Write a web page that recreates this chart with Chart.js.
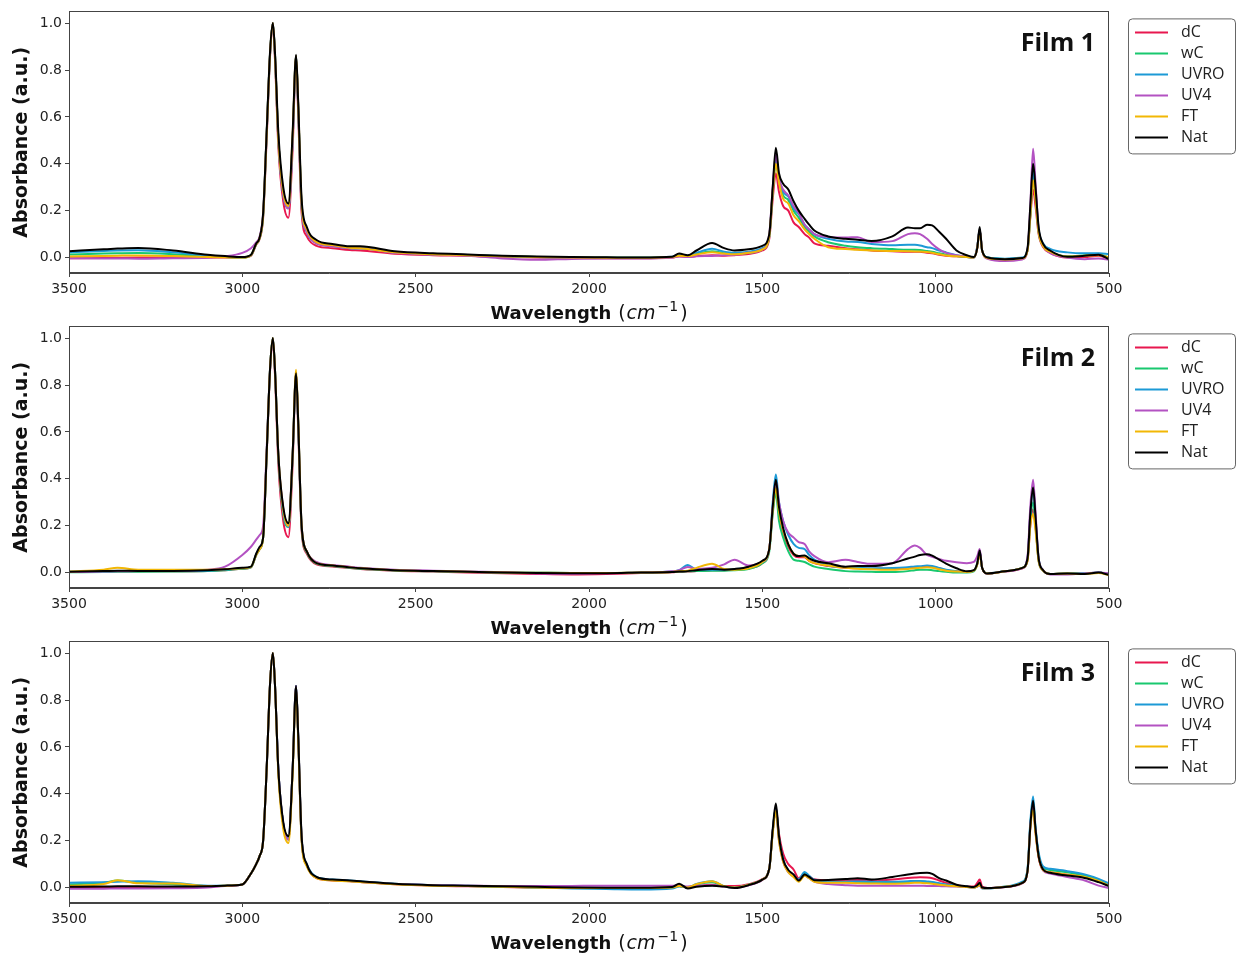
<!doctype html>
<html>
<head>
<meta charset="utf-8">
<script src="https://cdn.jsdelivr.net/npm/chart.js@4.4.1/dist/chart.umd.min.js"></script>
<style>
body { margin: 0; background: #fff; }
.panel { position: absolute; left: 0; }
</style>
</head>
<body>
<div class="panel" style="top:0px"><canvas id="film1" width="1241" height="330"></canvas></div>
<div class="panel" style="top:315px"><canvas id="film2" width="1241" height="330"></canvas></div>
<div class="panel" style="top:630px"><canvas id="film3" width="1241" height="325"></canvas></div>
<script>
// wavenumber grid (cm-1), shared by every spectrum
var wavenumbers = [
	3500, 3400, 3360, 3300, 3200, 3100, 3050, 3000, 2975, 2960, 2950,
	2940, 2930, 2920, 2912, 2906, 2896, 2882, 2867, 2855, 2845, 2839,
	2829, 2814, 2786, 2740, 2690, 2660, 2560, 2450, 2350, 2250, 2150,
	2050, 1950, 1850, 1760, 1740, 1715, 1690, 1645, 1610, 1580, 1540,
	1500, 1480, 1470, 1461, 1452, 1440, 1425, 1410, 1395, 1378, 1365,
	1350, 1310, 1260, 1225, 1185, 1125, 1080, 1060, 1045, 1025, 1010,
	990, 970, 940, 910, 890, 880, 873, 866, 850, 800, 750,
	735, 727, 719, 712, 703, 690, 670, 620, 570, 530, 500
];

var seriesNames = ['dC', 'wC', 'UVRO', 'UV4', 'FT', 'Nat'];
var seriesColors = ['#e8174f', '#19c86f', '#1c9ad6', '#b352c2', '#f2b705', '#000000'];
var filmTitles = ['Film 1', 'Film 2', 'Film 3'];
var xTicks = [3500, 3000, 2500, 2000, 1500, 1000, 500];
var yTicks = [0, 0.2, 0.4, 0.6, 0.8, 1.0];

// ---- Film 1 ----
var f1dC = [
	-.003,-.002,-.001,0,0,0,0,0,.008,.055,.08,
	.17,.5,.86,.99,.85,.47,.24,.17,.46,.85,.62,
	.19,.09,.05,.04,.032,.03,.016,.01,.008,.003,0,
	-.002,-.003,-.003,0,.005,.003,.006,.01,.008,.01,.015,
	.03,.08,.25,.36,.28,.22,.2,.15,.13,.1,.085,
	.06,.05,.04,.035,.03,.027,.025,.025,.025,.02,.018,
	.012,.008,.005,.002,0,.04,.12,.03,-.002,-.01,-.005,
	.03,.17,.29,.22,.1,.045,.02,0,.002,.008,-.004
];
var f1wC = [
	.013,.017,.018,.019,.014,.005,.002,0,.01,.058,.083,
	.18,.52,.87,1.0,.87,.5,.27,.21,.5,.86,.65,
	.22,.11,.062,.05,.04,.04,.022,.014,.01,.005,.002,
	0,-.001,-.001,.002,.008,.006,.015,.027,.02,.015,.02,
	.035,.09,.28,.41,.33,.265,.245,.2,.17,.13,.11,
	.09,.065,.05,.044,.04,.036,.033,.033,.032,.028,.025,
	.018,.012,.006,.002,0,.045,.12,.03,0,-.006,-.002,
	.03,.18,.34,.26,.11,.05,.025,.005,.01,.014,0
];
var f1UVRO = [
	.023,.028,.03,.031,.022,.008,.004,.001,.01,.058,.084,
	.18,.52,.87,1.0,.87,.5,.27,.21,.5,.86,.65,
	.22,.11,.062,.05,.04,.04,.022,.015,.011,.006,.002,
	0,0,0,.003,.01,.008,.02,.037,.025,.02,.025,
	.04,.09,.29,.42,.34,.28,.26,.21,.186,.14,.12,
	.1,.08,.068,.066,.058,.052,.055,.054,.051,.044,.04,
	.03,.022,.01,.004,0,.045,.12,.03,0,-.005,0,
	.035,.19,.37,.28,.12,.06,.037,.022,.018,.018,.015
];
var f1UV4 = [
	-.003,-.004,-.004,-.005,-.003,-.001,.005,.02,.04,.065,.09,
	.19,.52,.87,1.0,.87,.5,.27,.21,.5,.86,.65,
	.22,.11,.06,.048,.04,.04,.02,.012,.008,-.004,-.01,
	-.006,-.004,-.004,0,.004,.002,.005,.007,.01,.012,.02,
	.035,.1,.3,.44,.34,.29,.265,.22,.19,.14,.12,
	.1,.088,.085,.087,.066,.07,.1,.104,.1,.08,.058,
	.035,.02,.01,.004,0,.045,.12,.03,-.005,-.015,-.008,
	.035,.22,.464,.32,.12,.05,.02,0,-.007,-.004,-.01
];
var f1FT = [
	.004,.007,.008,.009,.006,.002,.001,0,.01,.058,.083,
	.18,.52,.87,1.0,.87,.5,.28,.22,.52,.86,.66,
	.23,.12,.066,.053,.042,.04,.022,.014,.01,.005,.002,
	0,-.001,-.001,.002,.008,.006,.013,.023,.017,.014,.02,
	.035,.09,.28,.4,.32,.25,.23,.18,.155,.12,.1,
	.08,.044,.036,.033,.03,.028,.027,.026,.026,.024,.02,
	.014,.009,.005,.002,0,.04,.115,.03,-.002,-.008,-.003,
	.03,.18,.33,.25,.11,.048,.025,.004,.008,.01,0
];
var f1Nat = [
	.027,.035,.038,.041,.03,.012,.006,.002,.012,.06,.086,
	.19,.53,.88,1.0,.88,.53,.30,.23,.53,.865,.67,
	.25,.13,.075,.058,.048,.048,.027,.018,.013,.008,.004,
	.002,.001,0,.003,.017,.01,.03,.062,.04,.03,.035,
	.05,.1,.3,.468,.36,.315,.29,.24,.2,.165,.14,
	.115,.09,.08,.076,.07,.09,.128,.125,.125,.14,.137,
	.11,.08,.03,.01,.002,.04,.13,.03,0,-.007,-.002,
	.04,.22,.4,.3,.13,.058,.03,.003,.008,.012,-.007
];

// ---- Film 2 ----
var f2dC = [
	.002,.004,.005,.005,.005,.006,.01,.016,.022,.075,.1,
	.15,.49,.86,.99,.85,.46,.22,.151,.46,.85,.62,
	.18,.08,.035,.026,.019,.015,.008,.004,0,-.003,-.006,
	-.008,-.006,-.002,.001,.003,.004,.006,.01,.01,.012,.018,
	.04,.1,.26,.36,.25,.17,.11,.075,.065,.065,.05,
	.04,.028,.02,.018,.016,.016,.02,.022,.024,.026,.024,
	.018,.01,.005,.002,.008,.035,.085,.02,-.004,.004,.018,
	.05,.2,.27,.2,.05,.008,-.006,-.004,-.004,0,-.008
];
var f2wC = [
	.001,.002,.003,.003,.004,.006,.01,.016,.022,.075,.1,
	.15,.5,.87,1.0,.87,.49,.25,.194,.49,.85,.64,
	.19,.085,.038,.028,.02,.016,.009,.005,.002,0,-.001,
	-.002,-.002,0,.002,.004,.005,.006,.008,.008,.01,.015,
	.04,.09,.25,.34,.22,.15,.09,.055,.05,.045,.035,
	.025,.015,.006,.004,.003,.002,.006,.01,.012,.012,.01,
	.006,.003,0,0,.005,.035,.085,.02,-.004,.005,.02,
	.055,.22,.3,.2,.05,.008,-.006,-.004,-.004,0,-.006
];
var f2UVRO = [
	.003,.005,.006,.006,.006,.008,.012,.018,.024,.078,.105,
	.15,.5,.87,1.0,.87,.5,.26,.195,.5,.85,.65,
	.2,.09,.04,.03,.022,.018,.01,.006,.003,0,-.001,
	-.002,-.002,0,.004,.01,.032,.012,.012,.012,.015,.02,
	.045,.1,.3,.418,.3,.22,.16,.122,.105,.1,.075,
	.055,.03,.022,.02,.018,.019,.023,.026,.027,.03,.028,
	.02,.012,.006,.002,.008,.04,.09,.02,-.004,.005,.02,
	.06,.25,.36,.23,.06,.01,-.006,-.004,-.004,0,-.006
];
var f2UV4 = [
	.002,.004,.005,.006,.008,.012,.025,.075,.11,.14,.16,
	.2,.52,.87,1.0,.87,.5,.27,.2,.5,.85,.65,
	.2,.09,.045,.032,.025,.02,.012,.008,.004,.002,-.004,
	-.005,-.003,0,.005,.01,.024,.015,.02,.035,.055,.03,
	.045,.1,.28,.39,.3,.22,.17,.15,.13,.122,.09,
	.07,.044,.054,.045,.037,.04,.1,.115,.105,.075,.067,
	.058,.05,.044,.04,.045,.07,.1,.02,-.005,.005,.018,
	.07,.28,.396,.26,.06,.01,-.008,-.008,-.004,0,-.004
];
var f2FT = [
	.004,.012,.02,.012,.012,.012,.014,.018,.024,.076,.1,
	.15,.5,.87,1.0,.87,.5,.27,.2,.5,.865,.66,
	.2,.09,.04,.03,.022,.018,.01,.006,.003,0,-.001,
	-.002,-.002,0,.002,.006,.008,.02,.037,.015,.012,.018,
	.045,.1,.27,.358,.26,.18,.12,.08,.07,.068,.05,
	.04,.03,.02,.016,.014,.012,.015,.018,.02,.022,.02,
	.014,.008,.004,.002,.008,.035,.08,.02,-.004,.005,.02,
	.05,.2,.25,.18,.05,.008,-.006,-.004,-.006,-.002,-.012
];
var f2Nat = [
	.003,.006,.008,.007,.007,.01,.014,.02,.025,.08,.11,
	.15,.5,.87,1.0,.87,.5,.28,.21,.5,.85,.65,
	.2,.09,.04,.03,.022,.018,.01,.006,.003,0,-.002,
	-.003,-.003,0,.002,.004,.006,.01,.015,.012,.015,.025,
	.05,.1,.28,.396,.28,.19,.12,.08,.07,.073,.06,
	.05,.04,.025,.028,.028,.04,.06,.068,.075,.078,.072,
	.055,.038,.018,.005,.01,.04,.094,.02,-.004,.005,.02,
	.06,.25,.363,.24,.06,.01,-.006,-.004,-.006,0,-.01
];

// ---- Film 3 ----
var f3dC = [
	-.002,-.002,-.001,0,.001,.004,.008,.013,.06,.1,.135,
	.2,.5,.87,1.0,.87,.5,.27,.205,.5,.86,.65,
	.21,.095,.04,.03,.027,.024,.014,.008,.005,.002,0,
	-.002,-.002,-.002,0,.006,0,.006,.012,.006,.006,.014,
	.036,.08,.24,.34,.23,.145,.1,.077,.04,.058,.048,
	.035,.03,.03,.032,.03,.034,.041,.043,.044,.043,.04,
	.03,.02,.01,.004,.004,.02,.034,.004,-.002,.002,.02,
	.07,.26,.35,.24,.13,.075,.065,.055,.045,.03,.01
];
var f3wC = [
	.013,.02,.03,.02,.014,.006,.008,.013,.06,.1,.135,
	.2,.5,.87,1.0,.87,.5,.27,.205,.5,.86,.65,
	.21,.095,.042,.032,.028,.025,.015,.009,.006,.003,0,
	-.002,-.003,-.003,-.001,.006,0,.012,.022,.005,0,.012,
	.034,.08,.24,.34,.21,.12,.07,.05,.03,.058,.045,
	.03,.022,.022,.022,.02,.02,.024,.026,.026,.024,.022,
	.016,.012,.006,.003,0,.005,.01,-.002,-.003,.003,.022,
	.075,.27,.36,.25,.14,.085,.075,.065,.05,.032,.012
];
var f3UVRO = [
	.02,.023,.025,.027,.02,.008,.008,.013,.06,.1,.135,
	.2,.5,.87,1.0,.87,.5,.27,.21,.5,.86,.65,
	.21,.1,.045,.034,.03,.027,.016,.01,.008,.004,0,
	-.004,-.006,-.008,-.004,.004,0,.015,.027,.005,0,.012,
	.034,.08,.24,.34,.21,.12,.07,.05,.035,.066,.05,
	.033,.025,.025,.026,.025,.025,.027,.028,.028,.026,.024,
	.018,.013,.008,.004,0,.004,.008,-.004,-.004,.004,.025,
	.08,.28,.388,.26,.15,.09,.08,.07,.056,.037,.017
];
var f3UV4 = [
	-.005,-.005,-.004,-.004,-.003,0,.006,.013,.06,.1,.135,
	.2,.5,.87,1.0,.87,.5,.27,.205,.5,.86,.65,
	.21,.095,.042,.032,.028,.025,.015,.01,.008,.006,.006,
	.007,.008,.008,.008,.01,.004,.008,.01,.004,0,.01,
	.032,.08,.24,.33,.2,.11,.065,.048,.03,.05,.04,
	.025,.015,.01,.008,.008,.008,.008,.008,.008,.007,.007,
	.006,.005,.004,.002,0,.004,.008,-.002,-.003,.002,.018,
	.07,.26,.35,.24,.13,.072,.06,.045,.03,.008,-.002
];
var f3FT = [
	.008,.015,.031,.018,.017,.006,.008,.013,.06,.1,.135,
	.2,.5,.87,1.0,.87,.48,.25,.19,.48,.85,.64,
	.2,.09,.04,.03,.027,.024,.014,.008,.006,.003,0,
	-.002,-.002,-.002,0,.006,0,.014,.027,.006,0,.012,
	.034,.08,.23,.326,.2,.11,.065,.045,.025,.05,.04,
	.025,.02,.02,.018,.017,.016,.018,.02,.02,.018,.016,
	.012,.009,.005,.002,0,.005,.01,-.002,-.003,.003,.02,
	.07,.25,.33,.23,.13,.075,.065,.055,.045,.028,.008
];
var f3Nat = [
	.003,.004,.005,.005,.004,.005,.008,.013,.06,.1,.135,
	.2,.5,.87,1.0,.87,.5,.28,.219,.5,.86,.66,
	.22,.1,.045,.034,.03,.027,.016,.01,.008,.005,.003,
	0,-.001,-.001,.002,.016,-.004,.003,.008,.004,-.002,.01,
	.034,.08,.25,.359,.22,.12,.075,.056,.03,.056,.045,
	.031,.032,.036,.04,.034,.045,.056,.06,.062,.063,.058,
	.04,.03,.012,.005,.002,.01,.02,0,-.002,.002,.02,
	.07,.26,.37,.25,.134,.077,.063,.051,.041,.023,.006
];

var films = [
	[f1dC, f1wC, f1UVRO, f1UV4, f1FT, f1Nat],
	[f2dC, f2wC, f2UVRO, f2UV4, f2FT, f2Nat],
	[f3dC, f3wC, f3UVRO, f3UV4, f3FT, f3Nat]
];

var tickFont = { family: '"DejaVu Sans"', size: 14 };

// axes frame, titles and the boxed legend on the right
var decorations = {
	id: 'decorations',
	afterDraw: function(chart, args, opts) {
		var ctx = chart.ctx;
		var a = chart.chartArea;
		ctx.save();

		ctx.strokeStyle = '#444';
		ctx.lineWidth = 1;
		ctx.strokeRect(Math.round(a.left) + 0.5, Math.round(a.top) + 0.5,
			Math.round(a.right - a.left) - 1, Math.round(a.bottom - a.top) - 1);

		// film title
		ctx.fillStyle = '#111';
		ctx.font = 'bold 25px "Open Sans"';
		ctx.textAlign = 'right';
		ctx.textBaseline = 'alphabetic';
		ctx.fillText(opts.title, a.right - 14, a.top + 40);

		// y title
		ctx.save();
		ctx.translate(22, (a.top + a.bottom) / 2);
		ctx.rotate(-Math.PI / 2);
		ctx.font = 'bold 19px "DejaVu Sans"';
		ctx.textAlign = 'center';
		ctx.textBaseline = 'middle';
		ctx.fillText('Absorbance (a.u.)', 0, 0);
		ctx.restore();

		// x title: Wavelength (cm^-1)
		var parts = [
			{ t: 'Wavelength', f: 'bold 18px "DejaVu Sans"', dy: 0, gap: 7 },
			{ t: '(', f: '19px "DejaVu Sans"', dy: 0, gap: 1 },
			{ t: 'cm', f: 'italic 19px "DejaVu Sans"', dy: 0, gap: 2 },
			{ t: '\u22121', f: '14px "DejaVu Sans"', dy: -8, gap: 2 },
			{ t: ')', f: '19px "DejaVu Sans"', dy: 0, gap: 0 }
		];
		var total = 0;
		parts.forEach(function(p) {
			ctx.font = p.f;
			p.w = ctx.measureText(p.t).width;
			total += p.w + p.gap;
		});
		var x = (a.left + a.right) / 2 - total / 2;
		var base = a.bottom + 46;
		ctx.textAlign = 'left';
		ctx.textBaseline = 'alphabetic';
		parts.forEach(function(p) {
			ctx.font = p.f;
			ctx.fillText(p.t, x, base + p.dy);
			x += p.w + p.gap;
		});

		// legend
		var bx = a.right + 19, by = a.top + 7, bw = 107, bh = 135;
		ctx.beginPath();
		ctx.roundRect(bx + 0.5, by + 0.5, bw, bh, 4);
		ctx.fillStyle = '#fff';
		ctx.fill();
		ctx.strokeStyle = '#666';
		ctx.lineWidth = 1;
		ctx.stroke();
		ctx.font = '16px "Open Sans"';
		ctx.textBaseline = 'middle';
		chart.data.datasets.forEach(function(ds, i) {
			var ly = by + 14 + i * 21;
			ctx.strokeStyle = ds.borderColor;
			ctx.lineWidth = 2;
			ctx.beginPath();
			ctx.moveTo(bx + 7, ly);
			ctx.lineTo(bx + 40, ly);
			ctx.stroke();
			ctx.fillStyle = '#222';
			ctx.fillText(ds.label, bx + 53, ly);
		});

		ctx.restore();
	}
};

function makeChart(canvasId, seriesList, title, xAxisHeight) {
	var datasets = seriesList.map(function(values, i) {
		return {
			label: seriesNames[i],
			data: wavenumbers.map(function(w, j) { return { x: w, y: values[j] }; }),
			borderColor: seriesColors[i],
			borderWidth: 2,
			pointRadius: 0,
			cubicInterpolationMode: 'monotone',
			fill: false,
			order: seriesList.length - i
		};
	});
	var ctx = document.getElementById(canvasId).getContext('2d');
	return new Chart(ctx, {
		type: 'line',
		data: { datasets: datasets },
		plugins: [decorations],
		options: {
			responsive: false,
			devicePixelRatio: 1,
			animation: false,
			layout: { padding: { left: 0, right: 132, top: 11, bottom: 0 } },
			plugins: {
				legend: { display: false },
				tooltip: { enabled: false },
				decorations: { title: title }
			},
			scales: {
				x: {
					type: 'linear',
					reverse: true,
					min: 500,
					max: 3500,
					afterBuildTicks: function(scale) {
						scale.ticks = xTicks.map(function(v) { return { value: v }; });
					},
					afterFit: function(scale) { scale.height = xAxisHeight; },
					grid: { drawOnChartArea: false, drawTicks: true, tickLength: 4, color: '#444' },
					border: { display: true, color: '#444' },
					ticks: { font: tickFont, color: '#222', padding: 4, maxRotation: 0,
						callback: function(v) { return String(v); } }
				},
				y: {
					min: -0.066,
					max: 1.05,
					afterBuildTicks: function(scale) {
						scale.ticks = yTicks.map(function(v) { return { value: v }; });
					},
					afterFit: function(scale) { scale.width = 69; },
					grid: { drawOnChartArea: false, drawTicks: true, tickLength: 4, color: '#444' },
					border: { display: true, color: '#444' },
					ticks: { font: tickFont, color: '#222', padding: 3,
						callback: function(v) { return v.toFixed(1); } }
				}
			}
		}
	});
}

window.onload = function() {
	makeChart('film1', films[0], filmTitles[0], 57);
	makeChart('film2', films[1], filmTitles[1], 57);
	makeChart('film3', films[2], filmTitles[2], 52);
};
</script>
</body>
</html>
